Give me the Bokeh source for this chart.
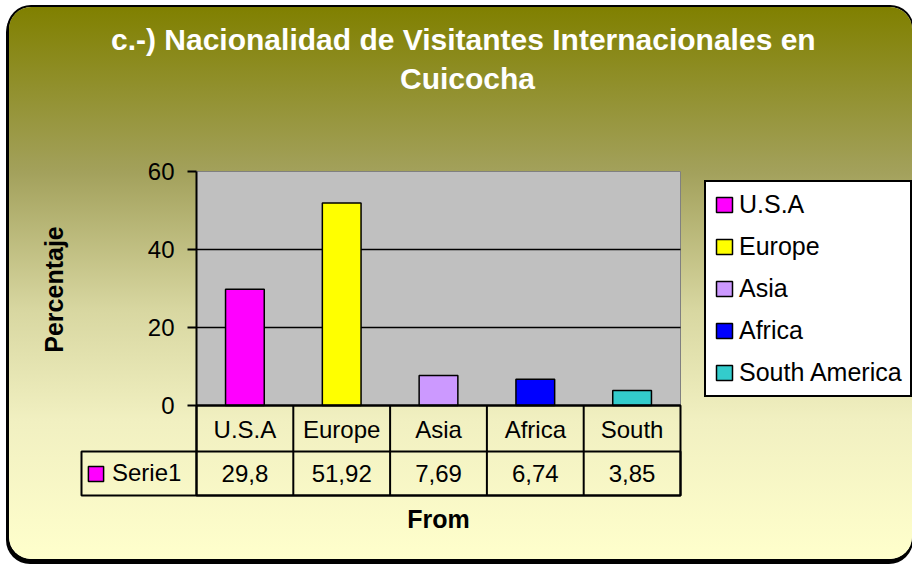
import math
from bokeh.plotting import figure
from bokeh.models import (ColumnDataSource, Range1d, FixedTicker, Label, Legend, LegendItem)
from bokeh.embed import file_html
from bokeh.resources import INLINE
from bokeh.core.properties import value

# ---------------- data ----------------
title_lines = ["c.-)  Nacionalidad de Visitantes Internacionales en", "Cuicocha"]
categories = ["U.S.A", "Europe", "Asia", "Africa", "South America"]
axis_labels = ["U.S.A", "Europe", "Asia", "Africa", "South"]
percent = [29.8, 51.92, 7.69, 6.74, 3.85]
colors = ["#FF00FF", "#FFFF00", "#CC99FF", "#0000FF", "#33CCCC"]
series_name = "Serie1"
y_ticks = [0, 20, 40, 60]
grid_ticks = [20, 40]
y_label = "Percentaje"
x_label = "From"

# ---------------- layout (page pixels) ----------------
CX0, CY0 = 9, 7          # canvas origin on the page
W, H = 903, 552          # canvas size
PL, PR = 196, 680        # plot area left / right
PT, P0 = 171, 405        # plot area top (y max) / zero line
ROW1, TB = 451, 495      # data-table row divider / table bottom
CELL_L = 81              # left edge of the series cell
YMAX = 60
FONT = "Liberation Sans"

n = len(categories)
xpx = (PR - PL) / n
ypx = (P0 - PT) / YMAX


def xd(px):
    return (px - PL) / xpx - 0.5


def yd(py):
    return (P0 - py) / ypx


def sx(px):
    return px - CX0


def sy(py):
    return (CY0 + H) - py


p = figure(width=W, height=H,
           x_range=Range1d(xd(CX0), xd(CX0 + W)),
           y_range=Range1d(yd(CY0 + H), yd(CY0)),
           output_backend="svg", toolbar_location=None,
           min_border_left=0, min_border_right=0, min_border_top=0, min_border_bottom=0)

p.styles = {
    "background": "linear-gradient(to bottom, #808000 0%, #A3A15C 30%, #D8D7A1 55%, #F1F0C1 75%, #FFFFCC 100%)",
    "border-radius": "22px",
    "box-shadow": "0 0 0 2px #000000, -1px 3px 0 2px #000000",
    "transform": f"translate({CX0}px, {CY0}px)",
}
p.border_fill_alpha = 0
p.background_fill_alpha = 0
p.outline_line_color = None
p.xgrid.visible = False
p.ygrid.visible = False

xs = list(range(n))
left_edge, right_edge = -0.5, n - 0.5
y_row1, y_bot = yd(ROW1), yd(TB)

# plot area background
p.quad(left=[left_edge], right=[right_edge], bottom=[0], top=[YMAX], fill_color="#C0C0C0",
       line_color="#808080", line_width=1, level="image")

# grid lines
p.segment(x0=[left_edge] * len(grid_ticks), x1=[right_edge] * len(grid_ticks),
          y0=grid_ticks, y1=grid_ticks, line_color="#000000", line_width=1.5, level="underlay")

# bars
src = ColumnDataSource(dict(x=xs, cat=categories, pct=percent, color=colors))
bars = p.vbar(x="x", top="pct", width=0.4, fill_color="color", line_color="#000000",
              line_width=1.5, source=src)

# y axis
ya = p.yaxis[0]
ya.fixed_location = left_edge
ya.bounds = (y_bot, YMAX)
ya.ticker = FixedTicker(ticks=y_ticks)
ya.major_label_text_font = FONT
ya.major_label_text_font_size = "24px"
ya.major_label_text_color = "#000000"
ya.major_tick_out = 9
ya.major_tick_in = 0
ya.minor_tick_out = 0
ya.minor_tick_in = 0
ya.axis_line_width = 2
ya.major_tick_line_width = 2
ya.major_label_standoff = 13

# x axis = category row of the data table
xa = p.xaxis[0]
xa.fixed_location = 0
xa.bounds = (left_edge, right_edge)
xa.ticker = FixedTicker(ticks=xs)
xa.major_label_overrides = {i: lab for i, lab in enumerate(axis_labels)}
xa.major_tick_out = 0
xa.major_tick_in = 0
xa.minor_tick_out = 0
xa.minor_tick_in = 0
xa.axis_line_width = 2
xa.major_label_text_font = FONT
xa.major_label_text_font_size = "24px"
xa.major_label_text_color = "#000000"
xa.major_label_standoff = 10

# data table lines
p.quad(left=[left_edge, xd(CELL_L)], right=[right_edge, right_edge], top=[0, y_row1],
       bottom=[y_bot, y_bot], fill_alpha=0, line_color="#000000", line_width=2)
seps = [i + 0.5 for i in range(n - 1)]
p.segment(x0=seps, x1=seps, y0=[y_bot] * len(seps), y1=[0] * len(seps),
          line_color="#000000", line_width=2)

# values row
y_mid = (y_row1 + y_bot) / 2
val_text = [f"{v:g}".replace(".", ",") for v in percent]
p.text(x=xs, y=[y_mid] * n, text=val_text, text_align="center",
       text_baseline="middle", text_font=value(FONT), text_font_size="24px", text_color="#000000")

# legends
items = [LegendItem(label=c, renderers=[bars], index=i) for i, c in enumerate(categories)]
leg = Legend(items=items, location=(sx(704), sy(397)), orientation="vertical",
             glyph_width=20, glyph_height=19, label_standoff=5, spacing=13, padding=8,
             label_height=28, label_text_font=FONT, label_text_font_size="25px",
             label_text_color="#000000", border_line_color="#000000", border_line_width=2,
             border_line_alpha=1, background_fill_color="#FFFFFF", background_fill_alpha=1)
p.add_layout(leg)

leg2 = Legend(items=[LegendItem(label=series_name, renderers=[bars], index=0)],
              location=(sx(86), sy(487)), glyph_width=19, glyph_height=19,
              label_standoff=7, padding=0, label_height=28, label_text_font=FONT,
              label_text_font_size="24px", label_text_color="#000000",
              border_line_alpha=0, background_fill_alpha=0)
p.add_layout(leg2)

# texts
for line, mid in zip(title_lines, [38.5, 78]):
    p.add_layout(Label(x=sx(467), y=sy(mid), x_units="screen", y_units="screen", text=line,
                       text_align="center", text_baseline="middle", text_font=FONT,
                       text_font_size="30px", text_font_style="bold", text_color="#FFFFFF"))
p.add_layout(Label(x=sx(53), y=sy(289), x_units="screen", y_units="screen", text=y_label,
                   angle=math.pi / 2, text_align="center", text_baseline="middle", text_font=FONT,
                   text_font_size="25px", text_font_style="bold", text_color="#000000"))
p.add_layout(Label(x=sx((PL + PR) / 2), y=sy(518.5), x_units="screen", y_units="screen", text=x_label,
                   text_align="center", text_baseline="middle", text_font=FONT,
                   text_font_size="25px", text_font_style="bold", text_color="#000000"))

open("out.html", "w").write(file_html(p, INLINE))
